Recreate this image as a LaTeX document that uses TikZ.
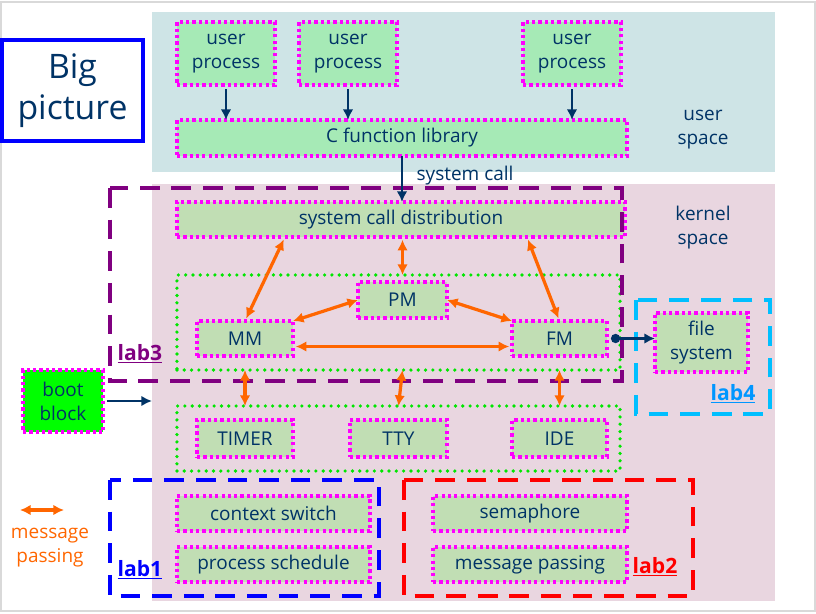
\documentclass[tikz,border=0pt]{standalone}
\usepackage{fontspec}
\setmainfont{Open Sans}
\usepackage{xcolor}
\usepackage{tikz}
\usetikzlibrary{arrows.meta}
\definecolor{BPNavy}{RGB}{0,51,102}
\definecolor{BPUserBg}{RGB}{206,228,230}
\definecolor{BPKernBg}{RGB}{233,214,224}
\definecolor{BPUserFill}{RGB}{166,234,182}
\definecolor{BPKernFill}{RGB}{193,222,180}
\definecolor{BPBoot}{RGB}{0,255,0}
\definecolor{BPMagenta}{RGB}{255,0,255}
\definecolor{BPGreen}{RGB}{0,230,0}
\definecolor{BPOrange}{RGB}{255,102,0}
\definecolor{BPPurple}{RGB}{128,0,128}
\definecolor{BPCyan}{RGB}{0,191,255}
\definecolor{BPCyanText}{RGB}{0,150,255}
\definecolor{BPBlue}{RGB}{0,0,255}
\definecolor{BPRed}{RGB}{255,0,0}

\begin{document}
\begin{tikzpicture}[
x=0.025cm,
y=-0.025cm,
every node/.style={font=\fontsize{13.5}{17}\selectfont,text=BPNavy,outer sep=0pt,align=center},
spacebg/.style={inner sep=0pt,minimum width=15.575cm},
ubox/.style={draw=BPMagenta,fill=BPUserFill,line width=2.6pt,dash pattern=on 2.3pt off 2.2pt,inner sep=2pt},
kbox/.style={ubox,fill=BPKernFill},
grp/.style={draw=BPGreen,line width=2.6pt,line cap=round,dash pattern=on 0pt off 5.2pt,inner sep=0pt,minimum width=11.075cm},
labframe/.style={line width=2.6pt,dash pattern=on 14pt off 8.5pt},
labtag/.style={font=\fontsize{15}{18}\selectfont\bfseries},
msg/.style={{Latex[length=7.5pt,width=7.5pt]}-{Latex[length=7.5pt,width=7.5pt]},line width=2.3pt,draw=BPOrange},
call/.style={-{Latex[length=7.5pt,width=7.5pt]},line width=2.1pt,draw=BPNavy}
]

\path[use as bounding box] (0,0) rectangle (816,613);
\draw[draw=gray!30,line width=1pt] (1,2) rectangle (815,611);

% user and kernel space
\node[spacebg,fill=BPUserBg,minimum height=4.0cm] (uspace) at (463.5,92) {};
\node[spacebg,fill=BPKernBg,minimum height=10.425cm] (kspace) at (463.5,392.5) {};

\node[draw=BPBlue,fill=white,line width=2.2pt,minimum width=3.525cm,minimum height=2.525cm,font=\fontsize{24}{29}\selectfont] (title) at (72.5,90.5) {Big\\picture};

\node (ulabel) at (703,130) {user\\space};
\node (klabel) at (703,228) {kernel\\space};

% user space
\node[ubox,minimum width=2.45cm,minimum height=1.575cm] (up1) at (226,53.5) {user\\process};
\node[ubox,minimum width=2.45cm,minimum height=1.575cm] (up2) at (348,53.5) {user\\process};
\node[ubox,minimum width=2.45cm,minimum height=1.575cm] (up3) at (572,53.5) {user\\process};
\node[ubox,minimum width=11.25cm,minimum height=0.9cm] (clib) at (402,138) {C function library};

% kernel
\node[kbox,minimum width=11.2cm,minimum height=0.875cm] (sysdist) at (401,219.5) {system call distribution};
\node[grp,minimum height=2.375cm] (modgrp) at (398.5,322.5) {};
\node[kbox,minimum width=2.225cm,minimum height=0.9cm] (pm) at (402.5,300) {PM};
\node[kbox,minimum width=2.4cm,minimum height=0.875cm] (mm) at (245,338.5) {MM};
\node[kbox,minimum width=2.375cm,minimum height=0.875cm] (fm) at (559.5,338.5) {FM};
\node[kbox,minimum width=2.325cm,minimum height=1.475cm] (fs) at (701.5,342.5) {file\\system};

\node[grp,minimum height=1.625cm] (drvgrp) at (398.5,438.5) {};
\node[kbox,minimum width=2.4cm,minimum height=0.925cm] (timer) at (245,438.5) {TIMER};
\node[kbox,minimum width=2.425cm,minimum height=0.925cm] (tty) at (398.5,438.5) {TTY};
\node[kbox,minimum width=2.375cm,minimum height=0.925cm] (ide) at (559.5,438.5) {IDE};

\node[ubox,fill=BPBoot,minimum width=2.0cm,minimum height=1.55cm] (boot) at (63,401) {boot\\block};

\node[kbox,minimum width=4.825cm,minimum height=0.875cm] (ctx) at (273.5,513.5) {context switch};
\node[kbox,minimum width=4.825cm,minimum height=0.875cm] (sched) at (273.5,564.5) {process schedule};
\node[kbox,minimum width=4.85cm,minimum height=0.875cm] (sem) at (530,513.5) {semaphore};
\node[kbox,minimum width=4.85cm,minimum height=0.875cm] (mp) at (530,564.5) {message passing};

% lab frames
\draw[labframe,draw=BPPurple] (110,188) rectangle (622,381);
\draw[labframe,draw=BPCyan] (636,300) rectangle (770,414);
\draw[labframe,draw=BPBlue] (110,480) rectangle (379,596);
\draw[labframe,draw=BPRed] (404,480) rectangle (693,596);

\node[labtag,text=BPPurple] (lab3) at (140,354) {\underline{lab3}};
\node[labtag,text=BPCyanText] (lab4) at (733,394) {\underline{lab4}};
\node[labtag,text=BPBlue] (lab1) at (140,570) {\underline{lab1}};
\node[labtag,text=BPRed] (lab2) at (655,567) {\underline{lab2}};

% calls
\draw[call,shorten <=3pt] (up1.south) -- (up1.south |- clib.north);
\draw[call,shorten <=3pt] (up2.south) -- (up2.south |- clib.north);
\draw[call,shorten <=3pt] (up3.south) -- (up3.south |- clib.north);
\draw[call] (clib.south) -- (clib.south |- sysdist.north);
\node[anchor=west] (syscall) at (412,176) {system call};
\draw[call,shorten <=3pt] (boot.east) -- (boot.east -| kspace.west);
\draw[line width=2.1pt,draw=BPNavy,{Circle[length=6.5pt]}-{Latex[length=7.5pt,width=7.5pt]}] ([xshift=0.1cm]fm.east) -- (fm.east -| fs.west);

% message passing
\draw[msg,shorten <=2pt,shorten >=2pt] (sysdist.south -| 285,0) -- (mm.north);
\draw[msg,shorten <=2pt] (sysdist.south -| pm.north) -- (modgrp.north -| pm.north);
\draw[msg,shorten <=2pt,shorten >=2pt] (sysdist.south -| 527,0) -- (fm.north);
\draw[msg] (pm.west) -- (mm.north east);
\draw[msg] (pm.east) -- (fm.north west);
\draw[msg,shorten <=2pt,shorten >=2pt] ([yshift=-0.2cm]mm.east) -- ([yshift=-0.2cm]fm.west);
\draw[msg] (modgrp.south -| mm.south) -- (drvgrp.north -| timer.north);
\draw[msg] (modgrp.south -| pm.south) -- (drvgrp.north -| tty.north);
\draw[msg] (modgrp.south -| fm.south) -- (drvgrp.north -| ide.north);

% legend
\coordinate (legA) at (20,510);
\coordinate (legB) at (64,510);
\draw[msg] (legA) -- (legB);
\node[text=BPOrange] (legtext) at (50,548) {message\\passing};

\end{tikzpicture}
\end{document}
